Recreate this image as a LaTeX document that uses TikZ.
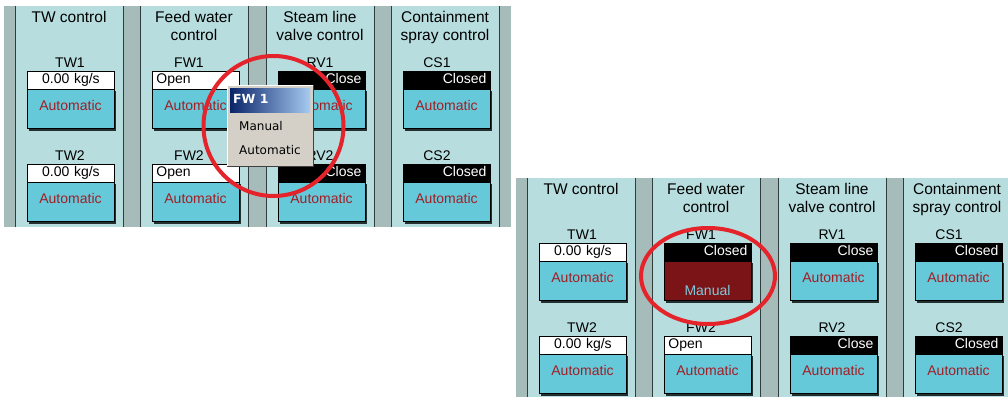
\documentclass[tikz,border=0pt]{standalone}
\usepackage{fontspec}
\setmainfont{Liberation Sans}
\newfontfamily\popfont{DejaVu Sans}
\definecolor{panelbg}{HTML}{B7DDDE}
\definecolor{stripbg}{HTML}{A6BCBB}
\definecolor{btncyan}{HTML}{66C9DA}
\definecolor{btntext}{HTML}{A01E24}
\definecolor{manualred}{HTML}{7A1416}
\definecolor{manualtext}{HTML}{80C8DC}
\definecolor{popgray}{HTML}{D4D0C8}
\definecolor{popdark}{HTML}{404040}
\definecolor{navy}{HTML}{0A246A}
\definecolor{lightnavy}{HTML}{A6CAF0}
\definecolor{markred}{HTML}{E5232B}
\definecolor{coldark}{HTML}{2F3D3D}
\definecolor{btnshade}{HTML}{223030}
\newcommand\txtfont{\fontsize{14}{16}\selectfont}
\newcommand\ttlfont{\fontsize{15.5}{18}\selectfont}
\newcommand\colbg[1]{%
  \fill[panelbg] (#1,6) rectangle (#1+108,227);
  \draw[coldark,line width=1pt] (#1,6) -- (#1,227) (#1+108,6) -- (#1+108,227);}
% name, ox, top, valstyle, valtext, btnstyle, txtstyle, btntext
\newcommand\ctrlunit[8]{%
  \fill[btnshade] (#2+13.5,#3+19.5) rectangle (#2+101,#3+59.5);
  \node[#4] (#1-v) at (#2+12,#3) {#5};
  \node[#6] (#1-b) at (#2+12,#3+18) {};
  \node[#7] (#1-t) at (#2+55.5,#3+39) {#8};}
% prefix, fw1 valstyle, fw1 val, fw1 btnstyle, fw1 txtstyle, fw1 btntext
\newcommand\ctrlpanel[6]{%
  \fill[stripbg] (4,6) rectangle (511,227);
  \colbg{15}\colbg{140}\colbg{266}\colbg{391}
  \node[ttl] (#1-t1) at (69,22.5) {TW control};
  \node[ttl] (#1-t2a) at (194,22.5) {Feed water};
  \node[ttl] (#1-t2b) at (194,40.5) {control};
  \node[ttl] (#1-t3a) at (320,22.5) {Steam line};
  \node[ttl] (#1-t3b) at (320,40.5) {valve control};
  \node[ttl] (#1-t4a) at (445,22.5) {Containment};
  \node[ttl] (#1-t4b) at (445,40.5) {spray control};
  \node[lbl] (#1-l1) at (70,67) {TW1};
  \node[lbl] (#1-l2) at (70,160) {TW2};
  \node[lbl] (#1-l3) at (189,67) {FW1};
  \node[lbl] (#1-l4) at (189,160) {FW2};
  \node[lbl] (#1-l5) at (320,67) {RV1};
  \node[lbl] (#1-l6) at (320,160) {RV2};
  \node[lbl] (#1-l7) at (437,67) {CS1};
  \node[lbl] (#1-l8) at (437,160) {CS2};
  \ctrlunit{#1-tw1}{15}{71}{valwc}{0.00 kg/s}{btnauto}{txtauto}{Automatic}
  \ctrlunit{#1-tw2}{15}{164}{valwc}{0.00 kg/s}{btnauto}{txtauto}{Automatic}
  \ctrlunit{#1-fw1}{140}{71}{#2}{#3}{#4}{#5}{#6}
  \ctrlunit{#1-fw2}{140}{164}{valwl}{Open}{btnauto}{txtauto}{Automatic}
  \ctrlunit{#1-rv1}{266}{71}{valbr}{Close}{btnauto}{txtauto}{Automatic}
  \ctrlunit{#1-rv2}{266}{164}{valbr}{Close}{btnauto}{txtauto}{Automatic}
  \ctrlunit{#1-cs1}{391}{71}{valbr}{Closed}{btnauto}{txtauto}{Automatic}
  \ctrlunit{#1-cs2}{391}{164}{valbr}{Closed}{btnauto}{txtauto}{Automatic}}
\begin{document}
\begin{tikzpicture}[x=1pt,y=-1pt,
  lbl/.style={anchor=base,inner sep=0pt,font=\txtfont},
  ttl/.style={anchor=base,inner sep=0pt,font=\ttlfont},
  vbox/.style={draw=black,line width=0.8pt,anchor=north west,minimum width=87pt,
    minimum height=18pt,inner xsep=4pt,inner ysep=0pt,text width=79pt,
    text height=10pt,text depth=3pt,font=\txtfont},
  valwl/.style={vbox,fill=white,align=left},
  valwc/.style={vbox,fill=white,align=center},
  valbr/.style={vbox,fill=black,text=white,align=right},
  btnbase/.style={anchor=north west,minimum width=87pt,minimum height=39pt,
    inner sep=0pt,draw=black,line width=0.8pt},
  btnauto/.style={btnbase,fill=btncyan},
  btnman/.style={btnbase,fill=manualred},
  txtauto/.style={anchor=base,inner sep=0pt,font=\txtfont,text=btntext},
  txtman/.style={txtauto,text=manualtext,yshift=-13pt},
  popitem/.style={anchor=base west,inner sep=0pt,font=\popfont\fontsize{12}{14}\selectfont},
  redmark/.style={draw=markred,line width=4pt}]
\useasboundingbox[fill=white] (0,0) rectangle (1008,396);
% left panel
\ctrlpanel{L}{valwl}{Open}{btnauto}{txtauto}{Automatic}
% popup menu
\node[fill=popgray,anchor=north west,minimum width=86pt,minimum height=81pt,inner sep=0pt] (pop) at (227,85) {};
\draw[white,line width=1pt] (pop.south west) |- (pop.north east);
\draw[popdark,line width=1.2pt] (pop.south west) -| (pop.north east);
\shade[left color=navy,right color=lightnavy] (230,88) rectangle (310,112);
\node[anchor=base west,inner sep=0pt,text=white,font=\popfont\bfseries\fontsize{12.5}{14}\selectfont] (pop-title) at (233,103) {FW 1};
\node[popitem] (pop-man) at (239,130) {Manual};
\node[popitem] (pop-auto) at (239,154) {Automatic};
\draw[redmark] (273.5,126) circle[radius=70pt];
% right panel
\begin{scope}
  \clip (516,178) rectangle (1008,396);
  \begin{scope}[shift={(512,172)}]
    \ctrlpanel{R}{valbr}{Closed}{btnman}{txtman}{Manual}
  \end{scope}
\end{scope}
\draw[redmark] (708,276) ellipse[x radius=67pt,y radius=48pt];
\end{tikzpicture}
\end{document}
